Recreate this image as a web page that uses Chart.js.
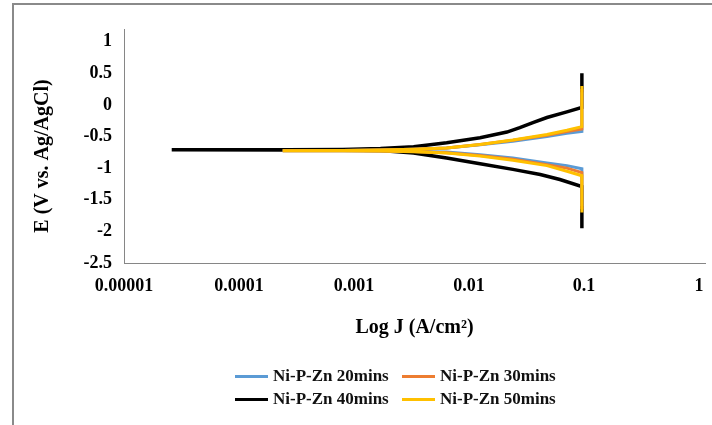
<!DOCTYPE html>
<html>
<head>
<meta charset="utf-8">
<script src="https://cdn.jsdelivr.net/npm/chart.js@4.4.1/dist/chart.umd.min.js"></script>
<style>
  body { margin: 0; background: #fff; }
  #wrap { position: relative; width: 712px; height: 425px; overflow: hidden; }
  #frame { position: absolute; left: 12px; top: 3px; right: -5px; bottom: -5px;
           border-top: 2px solid #8a8a8a; border-left: 2px solid #8a8a8a; pointer-events: none; }
  .item { position: absolute; height: 20px; display: flex; align-items: center;
          font: bold 17px "Liberation Serif", "Times New Roman", serif; color: #111; white-space: nowrap; }
  .item span.line { display: inline-block; width: 33px; height: 3px; margin-right: 5px; }
</style>
</head>
<body>
<div id="wrap">
  <canvas id="graphic" width="712" height="425"></canvas>
  <div id="frame"></div>
  <div id="legend"></div>
</div>
<script>
const seriesNames = ['Ni-P-Zn 20mins', 'Ni-P-Zn 30mins', 'Ni-P-Zn 40mins', 'Ni-P-Zn 50mins'];
const colors = ['#5B9BD5', '#ED7D31', '#000000', '#FFC000'];

const xTickValues = [0.00001, 0.0001, 0.001, 0.01, 0.1, 1];
const xTickLabels = ['0.00001', '0.0001', '0.001', '0.01', '0.1', '1'];
const yTickValues = [-2.5, -2, -1.5, -1, -0.5, 0, 0.5, 1];
const yTickLabels = ['-2.5', '-2', '-1.5', '-1', '-0.5', '0', '0.5', '1'];

// current density J (A/cm2) and potential E (V), cathodic end first
const j20 = [0.096, 0.096, 0.0711, 0.0477, 0.0241, 0.0125, 0.0064, 0.0033, 0.0017, 0.0008, 0.00024, 0.0008, 0.0017, 0.0033, 0.0064, 0.0125, 0.0241, 0.0477, 0.0711, 0.096, 0.096];
const e20 = [-1.60, -1.01, -0.96, -0.92, -0.84, -0.79, -0.745, -0.735, -0.728, -0.725, -0.724, -0.72, -0.713, -0.70, -0.68, -0.63, -0.575, -0.50, -0.45, -0.42, 0.20];

const j30 = [0.096, 0.096, 0.0711, 0.0477, 0.0241, 0.0125, 0.0064, 0.0033, 0.0017, 0.0008, 0.00024, 0.0008, 0.0017, 0.0033, 0.0064, 0.0125, 0.0241, 0.0477, 0.0711, 0.096, 0.096];
const e30 = [-1.65, -1.07, -1.00, -0.945, -0.86, -0.80, -0.755, -0.738, -0.73, -0.726, -0.725, -0.721, -0.714, -0.70, -0.68, -0.625, -0.56, -0.48, -0.42, -0.38, 0.25];

const j40 = [0.096, 0.096, 0.0618, 0.0417, 0.0241, 0.0125, 0.0064, 0.0033, 0.0017, 0.0008, 0.00026, 0.000026, 0.00026, 0.0008, 0.0017, 0.0033, 0.0064, 0.0125, 0.0214, 0.0277, 0.036, 0.0477, 0.0711, 0.096, 0.096];
const e40 = [-1.95, -1.29, -1.18, -1.10, -1.02, -0.93, -0.84, -0.76, -0.72, -0.715, -0.712, -0.71, -0.708, -0.705, -0.69, -0.66, -0.60, -0.52, -0.43, -0.36, -0.28, -0.20, -0.11, -0.04, 0.50];

const j50 = [0.096, 0.096, 0.0711, 0.0477, 0.0241, 0.0125, 0.0064, 0.0033, 0.0017, 0.0008, 0.00024, 0.0008, 0.0017, 0.0033, 0.0064, 0.0125, 0.0241, 0.0477, 0.0711, 0.096, 0.096];
const e50 = [-1.70, -1.12, -1.05, -0.96, -0.875, -0.81, -0.76, -0.74, -0.73, -0.727, -0.725, -0.722, -0.715, -0.70, -0.68, -0.625, -0.556, -0.467, -0.40, -0.344, 0.30];

const jValues = [j20, j30, j40, j50];
const eValues = [e20, e30, e40, e50];
// black under the coloured ones, yellow on top
const drawOrder = [3, 2, 4, 1];

const serif = '"Liberation Serif", "Times New Roman", serif';
const axisColor = '#868686';

const datasets = seriesNames.map((name, i) => ({
    label: name,
    data: jValues[i].map((j, k) => ({ x: j, y: eValues[i][k] })),
    borderColor: colors[i],
    backgroundColor: colors[i],
    borderWidth: i === 2 ? 3.5 : 3,
    pointRadius: 0,
    showLine: true,
    tension: 0,
    order: drawOrder[i]
}));

const ctx = document.getElementById('graphic').getContext('2d');
const myChart = new Chart(ctx, {
    type: 'scatter',
    data: { datasets: datasets },
    options: {
        responsive: false,
        animation: false,
        devicePixelRatio: 1,
        layout: { padding: { top: 29, right: 7, left: 0, bottom: 0 } },
        plugins: { legend: { display: false }, tooltip: { enabled: false } },
        scales: {
            x: {
                type: 'logarithmic',
                min: 0.00001,
                max: 1.13,
                // tick marks hidden, their length only spaces the labels
                grid: { display: false, drawTicks: true, tickLength: 13 },
                border: { display: true, color: axisColor, width: 1 },
                afterBuildTicks: (scale) => { scale.ticks = xTickValues.map(v => ({ value: v })); },
                afterFit: (scale) => { scale.height = 162; },
                ticks: {
                    autoSkip: false, maxRotation: 0, padding: 0, color: '#000',
                    font: { family: serif, size: 18, weight: 'bold' },
                    callback: (v) => xTickLabels[xTickValues.indexOf(v)] ?? ''
                },
                title: {
                    display: true, text: 'Log J (A/cm²)', color: '#000',
                    font: { family: serif, size: 20, weight: 'bold' },
                    padding: { top: 0, bottom: 85 }
                }
            },
            y: {
                type: 'linear',
                min: -2.5,
                max: 1.2,
                grid: { display: false, drawTicks: false },
                border: { display: true, color: axisColor, width: 1 },
                afterBuildTicks: (scale) => { scale.ticks = yTickValues.map(v => ({ value: v })); },
                afterFit: (scale) => { scale.width = 124; },
                ticks: {
                    padding: 12, color: '#000',
                    font: { family: serif, size: 18, weight: 'bold' },
                    callback: (v) => yTickLabels[yTickValues.indexOf(v)] ?? ''
                },
                title: {
                    display: true, text: 'E (V vs. Ag/AgCl)    ', color: '#000',
                    font: { family: serif, size: 20, weight: 'bold' },
                    padding: { top: 31, bottom: 0 }
                }
            }
        }
    }
});

// legend in two rows, like the original
const legendPos = [[235, 366], [402, 366], [235, 389], [402, 389]];
const legend = document.getElementById('legend');
seriesNames.forEach((name, i) => {
    const item = document.createElement('div');
    item.className = 'item';
    item.style.left = legendPos[i][0] + 'px';
    item.style.top = legendPos[i][1] + 'px';
    item.innerHTML = '<span class="line" style="background:' + colors[i] + '"></span>' + name;
    legend.appendChild(item);
});
</script>
</body>
</html>
